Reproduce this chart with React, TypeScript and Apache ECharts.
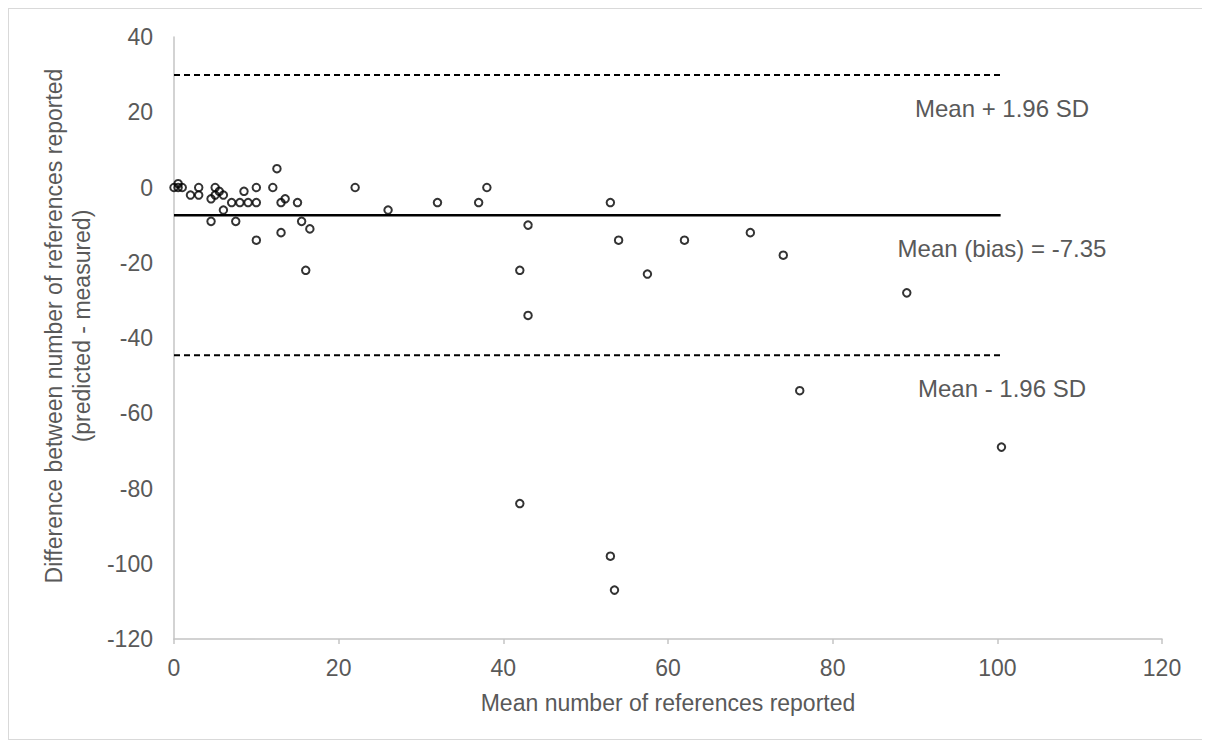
import React, { useEffect, useRef } from "react";
import * as echarts from "echarts";

// Bland–Altman data: mean number of references (x) vs difference (y)
const meanReported: number[] = [
  0, 0.5, 0.5, 1, 2, 3, 3, 4.5, 4.5, 5, 5, 5.5, 6, 6, 7, 7.5, 8, 8.5, 9, 10, 10, 10,
  12, 12.5, 13, 13, 13.5, 15, 15.5, 16, 16.5, 22, 26, 32, 37, 38, 42, 42, 43, 43,
  53, 53, 53.5, 54, 57.5, 62, 70, 74, 76, 89, 100.5,
];
const difference: number[] = [
  0, 0, 1, 0, -2, 0, -2, -3, -9, 0, -2, -1, -2, -6, -4, -9, -4, -1, -4, 0, -4, -14,
  0, 5, -4, -12, -3, -4, -9, -22, -11, 0, -6, -4, -4, 0, -22, -84, -10, -34,
  -4, -98, -107, -14, -23, -14, -12, -18, -54, -28, -69,
];

const meanBias = -7.35;
const upperLimit = 29.9;
const lowerLimit = -44.6;
const lineXRange: number[] = [0, 100.4];

const xTicks = { min: 0, max: 120, interval: 20 };
const yTicks = { min: -120, max: 40, interval: 20 };

const labelUpper = "Mean + 1.96 SD";
const labelMean = "Mean (bias) = -7.35";
const labelLower = "Mean - 1.96 SD";
const xTitle = "Mean number of references reported";
const yTitle1 = "Difference between number of references reported";
const yTitle2 = "(predicted - measured)";

const FONT = '"Liberation Sans", Arial, sans-serif';
const GRAY = "#595959";

export default function App() {
  const ref = useRef<HTMLDivElement>(null);

  useEffect(() => {
    if (!ref.current) return;
    const chart = echarts.init(ref.current, undefined, { renderer: "svg" });
    const points = meanReported.map((x, i) => [x, difference[i]]);
    const hline = (v: number) => lineXRange.map((x) => [x, v]);

    chart.setOption({
      animation: false,
      backgroundColor: "#ffffff",
      grid: { left: 165, top: 28, right: 40, bottom: 100 },
      xAxis: {
        type: "value",
        min: xTicks.min,
        max: xTicks.max,
        interval: xTicks.interval,
        name: xTitle,
        nameLocation: "middle",
        nameGap: 52,
        nameTextStyle: { color: GRAY, fontSize: 23, fontFamily: FONT },
        axisLine: { show: true, onZero: false, lineStyle: { color: "#c4c4c4", width: 1.5 } },
        axisTick: { show: true, length: 5, lineStyle: { color: "#c4c4c4", width: 1.5 } },
        axisLabel: { color: GRAY, fontSize: 23, fontFamily: FONT, margin: 17 },
        splitLine: { show: false },
      },
      yAxis: {
        type: "value",
        min: yTicks.min,
        max: yTicks.max,
        interval: yTicks.interval,
        axisLine: { show: true, onZero: false, lineStyle: { color: "#c4c4c4", width: 1.5 } },
        axisTick: { show: false },
        axisLabel: { color: GRAY, fontSize: 23, fontFamily: FONT, margin: 21 },
        splitLine: { show: false },
      },
      series: [
        {
          type: "line",
          data: hline(upperLimit),
          symbol: "none",
          lineStyle: { color: "#000", width: 2, type: [6, 4] },
          silent: true,
        },
        {
          type: "line",
          data: hline(meanBias),
          symbol: "none",
          lineStyle: { color: "#000", width: 2.5 },
          silent: true,
        },
        {
          type: "line",
          data: hline(lowerLimit),
          symbol: "none",
          lineStyle: { color: "#000", width: 2, type: [6, 4] },
          silent: true,
        },
        {
          type: "scatter",
          data: points,
          symbol: "circle",
          symbolSize: 7.5,
          itemStyle: { color: "rgba(0,0,0,0)", borderColor: "#000", borderWidth: 2 },
          z: 5,
        },
      ],
      graphic: [
        {
          type: "text",
          x: 993,
          y: 99,
          style: { text: labelUpper, fill: GRAY, font: `24px ${FONT}`, textAlign: "center", textVerticalAlign: "middle" },
        },
        {
          type: "text",
          x: 993,
          y: 239,
          style: { text: labelMean, fill: GRAY, font: `24px ${FONT}`, textAlign: "center", textVerticalAlign: "middle" },
        },
        {
          type: "text",
          x: 993,
          y: 379,
          style: { text: labelLower, fill: GRAY, font: `24px ${FONT}`, textAlign: "center", textVerticalAlign: "middle" },
        },
        {
          type: "text",
          x: 45,
          y: 317,
          rotation: Math.PI / 2,
          style: { text: yTitle1, fill: GRAY, font: `23px ${FONT}`, textAlign: "center", textVerticalAlign: "middle" },
        },
        {
          type: "text",
          x: 73,
          y: 317,
          rotation: Math.PI / 2,
          style: { text: yTitle2, fill: GRAY, font: `23px ${FONT}`, textAlign: "center", textVerticalAlign: "middle" },
        },
      ],
    });

    return () => chart.dispose();
  }, []);

  return (
    <div
      ref={ref}
      style={{
        width: 1195,
        height: 732,
        border: "1px solid #d9d9d9",
        boxSizing: "border-box",
        background: "#fff",
      }}
    />
  );
}
